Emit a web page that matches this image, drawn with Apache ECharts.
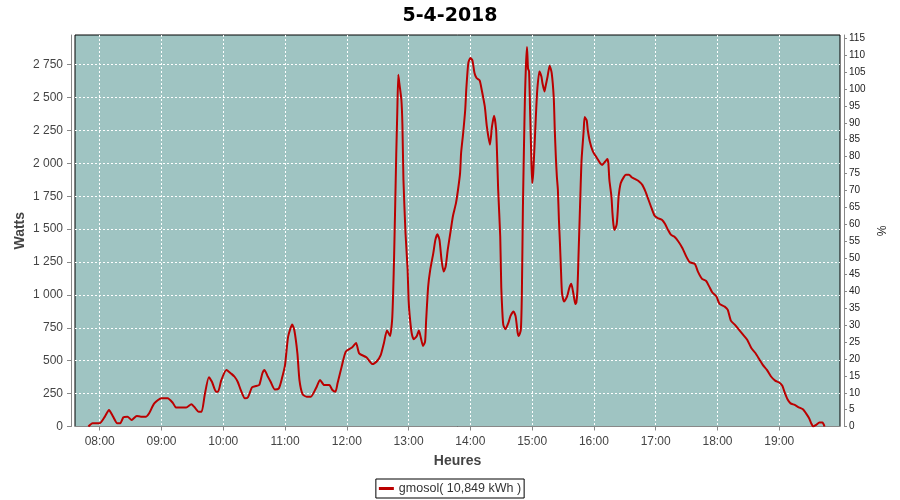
<!DOCTYPE html>
<html>
<head>
<meta charset="utf-8">
<script src="https://cdn.jsdelivr.net/npm/echarts@6/dist/echarts.min.js"></script>
<style>html,body{margin:0;padding:0;background:#fff}#c{width:900px;height:500px}</style>
</head>
<body>
<div id="c"></div>
<script>
const title = '5-4-2018';
const seriesName = 'gmosol( 10,849 kWh )';
const hourTicks = ['08:00','09:00','10:00','11:00','12:00','13:00','14:00','15:00','16:00','17:00','18:00','19:00'];
const times = [
'07:49','07:53','08:00','08:05','08:09','08:13','08:17','08:20','08:23','08:27','08:31','08:36','08:40','08:45','08:48','08:53',
'09:00','09:06','09:11','09:14','09:19','09:24','09:29','09:33','09:36','09:39','09:42','09:46','09:49','09:53','09:55','09:58',
'10:03','10:08','10:11','10:14','10:17','10:21','10:24','10:28','10:32','10:35','10:38','10:40','10:43','10:46','10:50','10:54','10:57',
'11:00','11:03','11:07','11:09','11:12','11:14','11:17','11:21','11:25','11:30','11:34','11:38','11:43','11:46','11:49','11:51','11:55','11:59',
'12:05','12:09','12:12','12:19','12:25','12:29','12:33','12:36','12:39','12:42','12:44','12:45','12:46','12:47','12:48','12:49','12:50','12:51','12:53','12:54','12:55','12:57','12:59',
'13:00','13:01','13:03','13:05','13:08','13:10','13:12','13:14','13:16','13:17','13:19','13:21','13:24','13:26','13:28','13:30','13:32','13:34','13:36','13:38','13:41','13:43','13:46','13:48','13:50','13:51','13:53','13:55','13:56','13:58',
'14:00','14:02','14:04','14:06','14:09','14:11','14:14','14:16','14:19','14:21','14:23','14:25','14:26','14:27','14:29','14:30','14:31','14:32','14:34','14:37','14:39','14:42','14:44','14:46','14:47','14:49','14:50','14:51','14:52','14:53','14:54','14:55','14:56','14:57','14:58','14:59',
'15:00','15:01','15:02','15:03','15:04','15:05','15:07','15:09','15:10','15:12','15:13','15:15','15:17','15:19','15:21','15:22','15:23','15:24','15:25','15:26','15:27','15:28','15:29','15:31','15:34','15:36','15:38','15:40','15:42','15:43','15:44','15:45','15:46','15:47','15:48','15:50','15:51','15:53','15:54','15:56','15:59',
'16:03','16:06','16:08','16:11','16:13','16:14','16:15','16:17','16:18','16:19','16:20','16:22','16:23','16:24','16:26','16:29','16:31','16:34','16:37','16:40','16:43','16:47','16:50','16:53','16:56','16:59',
'17:02','17:06','17:09','17:12','17:15','17:18','17:22','17:26','17:30','17:33','17:38','17:41','17:45','17:49','17:52','17:55','17:59',
'18:02','18:07','18:10','18:13','18:17','18:21','18:25','18:29','18:33','18:37','18:41','18:44','18:48','18:52','18:56',
'19:00','19:03','19:05','19:08','19:11','19:15','19:19','19:23','19:26','19:29','19:31','19:33','19:36','19:39','19:42','19:44'
];
const watts = [
0,25,25,75,125,75,25,25,70,75,50,80,75,75,100,175,
215,215,180,145,145,145,170,138,113,113,240,375,340,265,265,350,
430,400,378,340,277,214,222,298,308,316,405,430,384,340,282,290,366,
468,683,775,733,556,353,246,226,226,290,353,315,315,277,265,328,455,569,
600,635,556,526,474,494,545,633,729,688,810,1013,1317,1685,2065,2382,2673,2610,2483,2293,1875,1469,1200,
962,848,709,663,688,729,671,612,645,800,1063,1190,1317,1418,1461,1418,1266,1177,1215,1342,1494,1596,1697,1799,1926,2078,2230,2407,2559,2762,
2800,2782,2686,2648,2630,2559,2432,2280,2141,2280,2362,2255,2052,1799,1444,1060,880,772,739,790,841,874,835,709,688,734,1000,1650,2100,2500,2750,2884,2720,2700,2400,2100,
1850,1920,2080,2250,2420,2560,2698,2660,2610,2546,2584,2660,2742,2686,2496,2250,2050,1900,1799,1571,1393,1190,1013,950,988,1051,1084,1013,930,946,1038,1291,1545,1799,2026,2242,2351,2326,2255,2166,2090,
2039,2001,1988,2014,2032,2001,1875,1748,1621,1532,1494,1532,1621,1748,1849,1895,1913,1913,1892,1880,1867,1836,1786,1723,1659,1601,
1584,1571,1540,1494,1456,1443,1406,1355,1287,1249,1236,1177,1122,1106,1063,1018,988,
932,911,886,805,772,734,696,658,595,557,506,468,430,380,349,
334,309,265,207,176,164,146,131,100,63,25,0,13,30,30,0
];
const xMin = '07:36', xMax = '19:59';
const leftMax = 2975, leftStep = 250;
const rightMax = 116, rightStep = 5;

function toMin(s){const p=s.split(':');return (+p[0])*60+(+p[1]);}
function fmtMin(v){const h=Math.floor(v/60),m=Math.round(v-h*60);return (h<10?'0':'')+h+':'+(m<10?'0':'')+m;}
function fmtW(v){return String(v).replace(/\B(?=(\d{3})+(?!\d))/g,' ');}

const data = times.map((t,i)=>[toMin(t), watts[i]]);
const tickVals = hourTicks.map(toMin);
const leftVals = []; for(let v=0; v<=2750; v+=leftStep) leftVals.push(v);
const rightVals = []; for(let v=0; v<=115; v+=rightStep) rightVals.push(v);

const chart = echarts.init(document.getElementById('c'), null, {renderer:'canvas'});
const gridLine = {show:true, lineStyle:{color:'#ffffff', type:[2,2], width:1}};
chart.setOption({
  animation:false,
  backgroundColor:'#ffffff',
  title:{text:title, left:'center', top:2, textStyle:{fontFamily:'DejaVu Sans', fontWeight:'bold', fontSize:19, color:'#000'}},
  legend:{
    data:[seriesName], left:'center', bottom:2, icon:'rect', itemWidth:15, itemHeight:3, itemGap:5,
    padding:[3,3], borderColor:'#000', borderWidth:1, borderRadius:0,
    textStyle:{fontFamily:'Liberation Sans', fontSize:12.5, color:'#333'}
  },
  grid:{left:75, right:60, top:35, bottom:73.5, show:true, backgroundColor:'#9fc4c2', borderColor:'#000', borderWidth:1, containLabel:false},
  xAxis:{
    type:'value', min:toMin(xMin), max:toMin(xMax), offset:4,
    name:'Heures', nameLocation:'middle', nameGap:24, nameMoveOverlap:false,
    nameTextStyle:{fontFamily:'Liberation Sans', fontWeight:'bold', fontSize:14, color:'#444'},
    axisLine:{show:true, lineStyle:{color:'#888'}},
    axisTick:{show:true, length:4, lineStyle:{color:'#888'}, customValues:tickVals},
    axisLabel:{customValues:tickVals, formatter:fmtMin, margin:5, fontFamily:'Liberation Sans', fontSize:12, color:'#444'},
    splitLine:gridLine
  },
  yAxis:[{
    type:'value', min:0, max:leftMax, offset:4, position:'left',
    name:'Watts', nameLocation:'middle', nameGap:44, nameRotate:90, nameMoveOverlap:false,
    nameTextStyle:{fontFamily:'Liberation Sans', fontWeight:'bold', fontSize:14, color:'#444'},
    axisLine:{show:true, lineStyle:{color:'#888'}},
    axisTick:{show:true, length:4, lineStyle:{color:'#888'}, customValues:leftVals},
    axisLabel:{customValues:leftVals, formatter:fmtW, margin:8, fontFamily:'Liberation Sans', fontSize:12, color:'#444'},
    splitLine:gridLine
  },{
    type:'value', min:0, max:rightMax, offset:4, position:'right',
    name:'%', nameLocation:'middle', nameGap:30, nameRotate:-90, nameMoveOverlap:false,
    nameTextStyle:{fontFamily:'Liberation Sans', fontSize:12, color:'#222'},
    axisLine:{show:true, lineStyle:{color:'#888'}},
    axisTick:{show:true, length:3, lineStyle:{color:'#888'}, customValues:rightVals},
    axisLabel:{customValues:rightVals, margin:5, fontFamily:'Liberation Sans', fontSize:10, color:'#222'},
    splitLine:{show:false}
  }],
  series:[{
    name:seriesName, type:'line', data:data, yAxisIndex:0, showSymbol:false, smooth:0.2,
    lineStyle:{color:'#bb0000', width:2}, itemStyle:{color:'#bb0000'}
  }]
});
</script>
</body>
</html>
